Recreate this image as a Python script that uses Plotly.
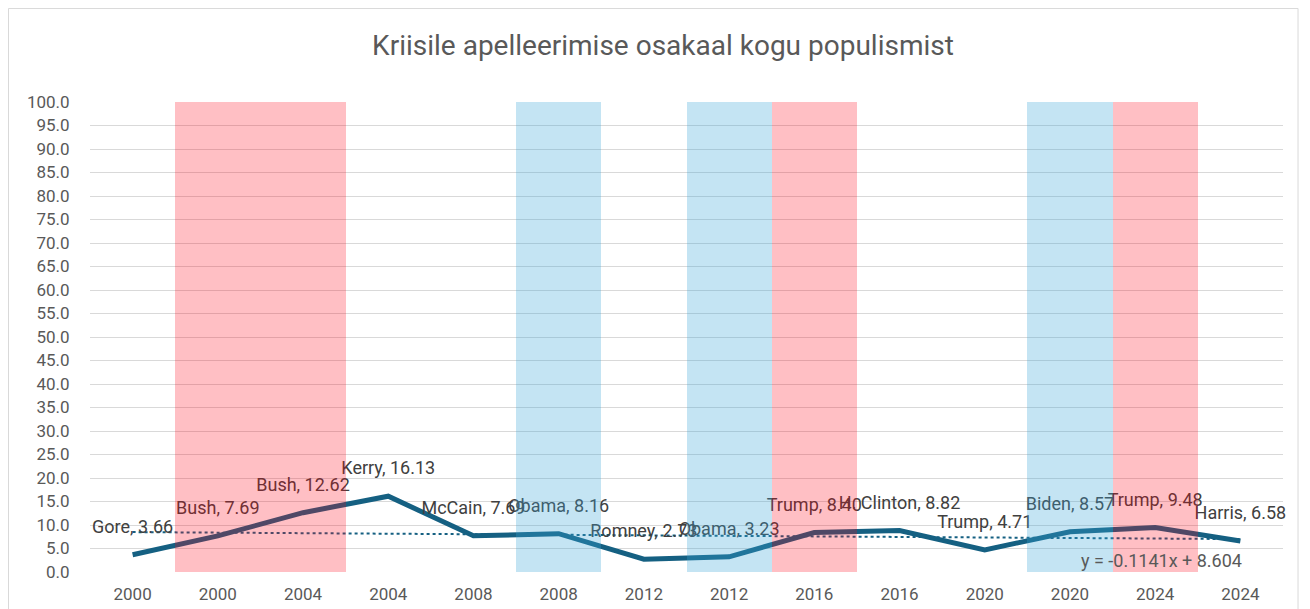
import numpy as np
import plotly.graph_objects as go

# data
years = ['2000', '2000', '2004', '2004', '2008', '2008', '2012', '2012',
         '2016', '2016', '2020', '2020', '2024', '2024']
candidates = ['Gore', 'Bush', 'Bush', 'Kerry', 'McCain', 'Obama', 'Romney', 'Obama',
              'Trump', 'H. Clinton', 'Trump', 'Biden', 'Trump', 'Harris']
crisis_share = [3.66, 7.69, 12.62, 16.13, 7.69, 8.16, 2.73, 3.23,
                8.40, 8.82, 4.71, 8.57, 9.48, 6.58]
# winner bands (100 = shaded column), split by party
rep_band = [None, 100, 100, None, None, None, None, None, 100, None, None, None, 100, None]
dem_band = [None, None, None, None, None, 100, None, 100, None, None, None, 100, None, None]
trend_label = 'y = -0.1141x + 8.604'

x = np.arange(1, len(years) + 1)
slope, intercept = np.polyfit(x, crisis_share, 1)
trend = slope * x + intercept

TXT = '#595959'
LINE = '#156082'
FONT = 'Roboto'

fig = go.Figure()

# trendline + main line with labels (bottom layer)
fig.add_trace(go.Scatter(
    x=x, y=trend, mode='lines',
    line=dict(color=LINE, width=2, dash='dot'),
    showlegend=False, hoverinfo='skip'
))
fig.add_trace(go.Scatter(
    x=x, y=crisis_share, mode='lines+markers+text',
    line=dict(color=LINE, width=5),
    marker=dict(size=26, color='rgba(0,0,0,0)'),
    text=[f'{c}, {v:.2f}' for c, v in zip(candidates, crisis_share)],
    textposition='top center',
    textfont=dict(family=FONT, size=18, color='#404040'),
    cliponaxis=False, showlegend=False
))

# translucent bands on an overlaid axis so they tint the line underneath
fig.add_trace(go.Bar(
    x=x, y=rep_band, xaxis='x2', yaxis='y2', width=1,
    marker=dict(color='rgba(255,0,20,0.25)', line=dict(width=0)),
    showlegend=False, hoverinfo='skip'
))
fig.add_trace(go.Bar(
    x=x, y=dem_band, xaxis='x2', yaxis='y2', width=1,
    marker=dict(color='rgba(60,165,215,0.3)', line=dict(width=0)),
    showlegend=False, hoverinfo='skip'
))

fig.add_annotation(
    text=trend_label,
    xref='paper', yref='paper', x=0.898, y=0.0255, xanchor='center', yanchor='middle',
    showarrow=False, font=dict(family=FONT, size=18, color=TXT)
)

xr = [0.5, len(years) + 0.5]
fig.update_layout(
    width=1310, height=609,
    margin=dict(l=82, r=35, t=94, b=45),
    paper_bgcolor='white', plot_bgcolor='white',
    barmode='overlay', bargap=0,
    title=dict(text='Kriisile apelleerimise osakaal kogu populismist',
               x=0.5, xanchor='center', y=0.939, yanchor='middle', yref='container',
               font=dict(family=FONT, size=28, color=TXT)),
    font=dict(family=FONT, color=TXT),
    xaxis=dict(range=xr, tickvals=x, ticktext=years, showgrid=False, zeroline=False,
               automargin=False,
               ticks='outside', ticklen=7, tickcolor='rgba(0,0,0,0)',
               tickfont=dict(family=FONT, size=17, color=TXT)),
    yaxis=dict(range=[0, 100], tickvals=list(range(0, 101, 5)), tickformat='.1f',
               showgrid=True, gridcolor='#D9D9D9', gridwidth=1, zeroline=False,
               automargin=False,
               ticks='outside', ticklen=16, tickcolor='rgba(0,0,0,0)',
               tickfont=dict(family=FONT, size=17, color=TXT)),
    xaxis2=dict(range=xr, overlaying='x', visible=False),
    yaxis2=dict(range=[0, 100], overlaying='y', visible=False),
    shapes=[dict(type='rect', xref='paper', yref='paper', x0=-0.0683, x1=1.0126, y0=-0.2, y1=1.199,
                 line=dict(color='#D9D9D9', width=1), layer='below')],
)

fig.write_html('out.html')
